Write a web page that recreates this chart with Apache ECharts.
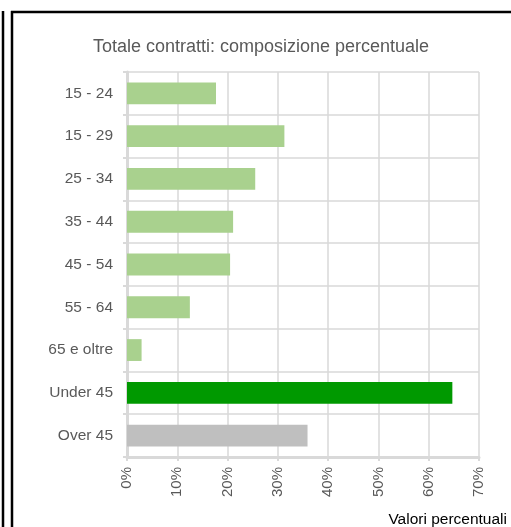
<!DOCTYPE html>
<html>
<head>
<meta charset="utf-8">
<script src="https://cdn.jsdelivr.net/npm/echarts@6/dist/echarts.min.js"></script>
<style>
html,body{margin:0;padding:0;background:#fff;}
#c{width:511px;height:527px;}
</style>
</head>
<body>
<div id="c"></div>
<script>
const categories = ['15 - 24','15 - 29','25 - 34','35 - 44','45 - 54','55 - 64','65 e oltre','Under 45','Over 45'];
const values = [17.7, 31.3, 25.5, 21.1, 20.5, 12.5, 2.9, 64.7, 35.9];
const xTicks = [0, 10, 20, 30, 40, 50, 60, 70];

const FONT = '"Liberation Sans", Arial, sans-serif';
const TXT = '#595959';
const GRID = '#d9d9d9';

function barColor(name) {
  if (name === 'Under 45') return '#009900';
  if (name === 'Over 45') return '#bfbfbf';
  return '#a9d18e';
}

const chart = echarts.init(document.getElementById('c'), null, {renderer: 'canvas'});
chart.setOption({
  animation: false,
  backgroundColor: '#fff',
  textStyle: {fontFamily: FONT},
  grid: {left: 127, right: 32, top: 72, bottom: 70, containLabel: false},
  xAxis: {
    type: 'value',
    min: xTicks[0], max: xTicks[xTicks.length - 1], interval: xTicks[1] - xTicks[0],
    axisLine: {show: true, lineStyle: {color: GRID, width: 3}},
    axisTick: {show: true, length: 4, lineStyle: {color: GRID, width: 2}},
    splitLine: {show: true, lineStyle: {color: GRID, width: 1.5}},
    axisLabel: {
      rotate: 90, margin: 10, fontSize: 15, color: TXT, fontFamily: FONT,
      formatter: v => v + '%'
    }
  },
  yAxis: {
    type: 'category',
    inverse: true,
    data: categories,
    axisLine: {show: true, lineStyle: {color: GRID, width: 3}},
    axisTick: {show: true, length: 4, lineStyle: {color: GRID, width: 2}},
    splitLine: {show: true, lineStyle: {color: GRID, width: 1.5}},
    axisLabel: {margin: 14, fontSize: 15.5, color: TXT, fontFamily: FONT}
  },
  series: [{
    type: 'bar',
    barWidth: '51%',
    data: values.map((v, i) => ({value: v, itemStyle: {color: barColor(categories[i])}}))
  }],
  graphic: [
    {type: 'line', shape: {x1: 3, y1: 11, x2: 3, y2: 527}, style: {stroke: '#000', lineWidth: 2.5}},
    {type: 'line', shape: {x1: 12, y1: 11, x2: 12, y2: 527}, style: {stroke: '#000', lineWidth: 2.5}},
    {type: 'line', shape: {x1: 11, y1: 12, x2: 511, y2: 12}, style: {stroke: '#000', lineWidth: 2.5}},
    {type: 'text', x: 261, y: 47, style: {text: 'Totale contratti: composizione percentuale', font: '18px ' + FONT, fill: TXT, textAlign: 'center', textVerticalAlign: 'middle'}},
    {type: 'text', x: 507, y: 520, style: {text: 'Valori percentuali', font: '15.5px ' + FONT, fill: '#000', textAlign: 'right', textVerticalAlign: 'middle'}}
  ]
});
</script>
</body>
</html>
